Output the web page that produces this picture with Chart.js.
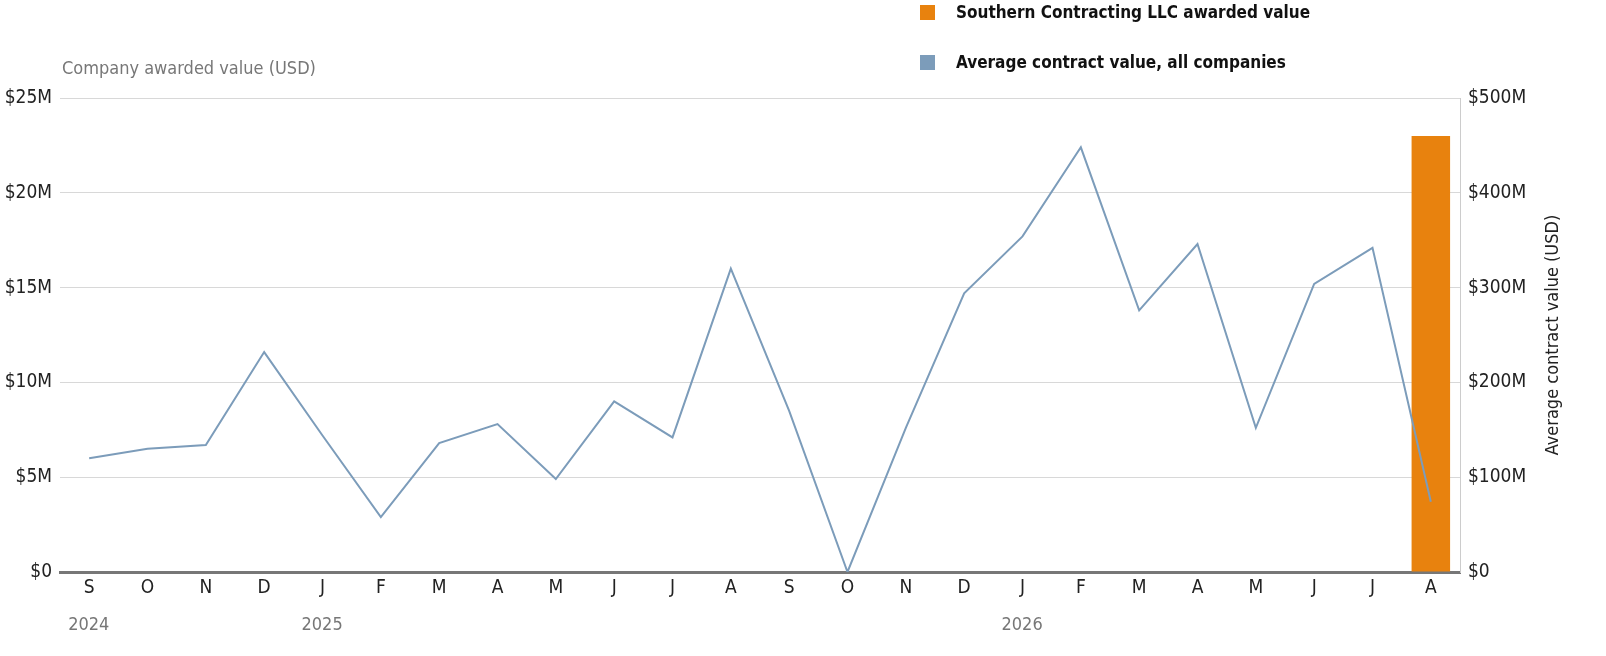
<!DOCTYPE html>
<html><head><meta charset="utf-8">
<script src="https://cdn.jsdelivr.net/npm/chart.js@4"></script>
<style>
html,body{margin:0;padding:0;background:#fff;}
#wrap{position:relative;width:1606px;height:656px;}
canvas{position:absolute;left:0;top:0;}
.leg{position:absolute;left:920px;font:bold 17px 'Liberation Sans Narrow','DejaVu Sans Condensed',sans-serif;color:#111;display:flex;align-items:center;}
.leg span{display:inline-block;width:15px;height:15px;margin-right:21px;}
</style></head><body>
<div id="wrap">
<canvas id="c" width="1606" height="656"></canvas>
<div class="leg" style="top:2px"><span style="background:#E8820E"></span>Southern Contracting LLC awarded value</div>
<div class="leg" style="top:52px"><span style="background:#7C9CBA"></span>Average contract value, all companies</div>
</div>
<script>
const months = ["S","O","N","D","J","F","M","A","M","J","J","A","S","O","N","D","J","F","M","A","M","J","J","A"];
const years = [{label:"2024",index:0},{label:"2025",index:4},{label:"2026",index:16}];
const companyValue = [null,null,null,null,null,null,null,null,null,null,null,null,null,null,null,null,null,null,null,null,null,null,null,23];
const avgValue = [120,130,134,232,144,58,136,156,98,180,142,320,170,0,152,294,354,448,276,346,152,304,342,74];
const leftTicks = ["$0","$5M","$10M","$15M","$20M","$25M"];
const rightTicks = ["$0","$100M","$200M","$300M","$400M","$500M"];
const FONT = "'Liberation Sans Narrow','DejaVu Sans Condensed',sans-serif";

const extras = {
  id:'extras',
  afterDraw(chart){
    const ctx = chart.ctx, x = chart.scales.x;
    ctx.save();
    ctx.font = "18px "+FONT; ctx.fillStyle="#777"; ctx.textBaseline="middle"; ctx.textAlign="left";
    years.forEach(y=>ctx.fillText(y.label, x.getPixelForValue(y.index)-21, 625));
    ctx.fillText("Company awarded value (USD)", 62, 69);
    ctx.fillStyle="#222"; ctx.translate(1553, 335); ctx.rotate(-Math.PI/2); ctx.textAlign="center";
    ctx.fillText("Average contract value (USD)", 0, 0);
    ctx.restore();
  }
};

new Chart(document.getElementById('c'), {
  data:{
    labels: months,
    datasets:[
      {type:'line', data:avgValue, yAxisID:'y2', borderColor:'#7C9CBA', borderWidth:2, pointRadius:0, tension:0, order:1},
      {type:'bar', data:companyValue, yAxisID:'y', backgroundColor:'#E8820E', barPercentage:0.66, categoryPercentage:1, order:2}
    ]
  },
  options:{
    responsive:false, animation:false,
    layout:{padding:{top:98,bottom:0,left:0,right:0}},
    plugins:{legend:{display:false}, tooltip:{enabled:false}},
    scales:{
      x:{grid:{display:false, drawTicks:false}, border:{color:'#777', width:3},
         ticks:{color:'#222', font:{family:FONT,size:19}, padding:5, maxRotation:0, autoSkip:false},
         afterFit(s){s.height=84;}},
      y:{position:'left', min:0, max:25, grid:{color:'#d8d8d8', drawTicks:false}, border:{display:false},
         ticks:{stepSize:5, color:'#222', font:{family:FONT,size:19}, padding:8, callback:(v,i)=>leftTicks[i]},
         afterFit(s){s.width=60;}},
      y2:{position:'right', min:0, max:500, grid:{display:false, drawTicks:false}, border:{color:'#ccc', width:1},
         ticks:{stepSize:100, color:'#222', font:{family:FONT,size:19}, padding:8, callback:(v,i)=>rightTicks[i]},
         afterFit(s){s.width=146;}}
    }
  },
  plugins:[extras]
});
</script>
</body></html>
